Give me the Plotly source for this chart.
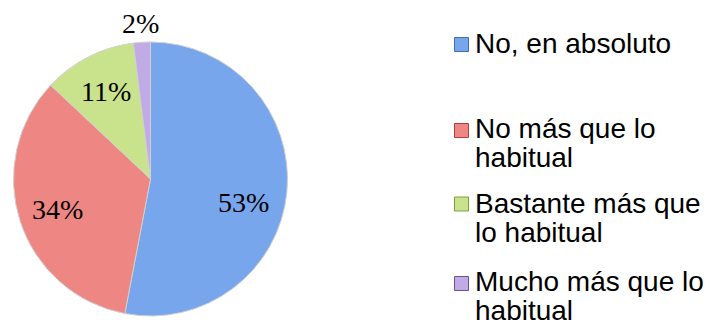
import math
import plotly.graph_objects as go

# Survey answers and their shares (%)
categories = ["No, en absoluto", "No más que lo habitual",
              "Bastante más que lo habitual", "Mucho más que lo habitual"]
shares = [53, 34, 11, 2]
# Legend text broken into lines as displayed
legend_lines = [["No, en absoluto"],
                ["No más que lo", "habitual"],
                ["Bastante más que", "lo habitual"],
                ["Mucho más que lo", "habitual"]]

colors = ["#78A6EC", "#EE8683", "#C9E38C", "#C0ABE4"]
edge_colors = ["#3F6FB0", "#B03E3B", "#7E9E3E", "#6A5290"]

W, H = 718, 332

# Pie placement in pixels
cx, cy, rad = 150.5, 179.0, 137.0

fig = go.Figure()
fig.add_trace(go.Pie(
    labels=categories,
    values=shares,
    sort=False,
    direction="clockwise",
    rotation=0,
    textinfo="none",
    marker=dict(colors=colors, line=dict(color="#D0D0D0", width=1)),
    domain=dict(x=[(cx - rad) / W, (cx + rad) / W],
                y=[(H - cy - rad) / H, (H - cy + rad) / H]),
    hoverinfo="label+percent",
    showlegend=False,
))

def px(x):
    return x / W

def py(y):
    return 1 - y / H

# Percentage labels along each slice's bisector (clockwise from 12 o'clock)
label_radius = [0.70, 0.71, 0.715, 1.14]   # fraction of the radius
label_turn = [8.5, 0, 0, 0]                # extra angle, degrees
start = 0.0
for i, v in enumerate(shares):
    theta = math.radians((start + v / 2) / sum(shares) * 360 + label_turn[i])
    start += v
    lx = cx + label_radius[i] * rad * math.sin(theta)
    ly = cy - label_radius[i] * rad * math.cos(theta)
    fig.add_annotation(x=px(lx), y=py(ly), xref="paper", yref="paper",
                       text=f"{v}%", showarrow=False,
                       xanchor="center", yanchor="middle",
                       font=dict(family="Liberation Serif", size=28, color="#000000"))

# Hand-laid legend: swatch + text lines (pixel layout converted to paper units)
swatch_y = [44.5, 130.5, 204, 283.5]
first_line_y = [43.5, 128.5, 203, 281]
line_gap = 29.5
sw = 14
sx = 461.5
tx = 473

for i, lines in enumerate(legend_lines):
    sy = swatch_y[i]
    fig.add_shape(type="rect", xref="paper", yref="paper",
                  x0=px(sx - sw / 2), x1=px(sx + sw / 2),
                  y0=py(sy + sw / 2), y1=py(sy - sw / 2),
                  fillcolor=colors[i], line=dict(color=edge_colors[i], width=1))
    for k, text in enumerate(lines):
        ly = first_line_y[i] + k * line_gap
        fig.add_annotation(x=px(tx), y=py(ly), xref="paper", yref="paper",
                           text=text, showarrow=False,
                           xanchor="left", yanchor="middle",
                           font=dict(family="Liberation Sans", size=28, color="#000000"))

fig.update_layout(
    width=W, height=H,
    margin=dict(l=0, r=0, t=0, b=0),
    paper_bgcolor="#FFFFFF",
    plot_bgcolor="#FFFFFF",
    showlegend=False,
)

fig.write_html("out.html")
